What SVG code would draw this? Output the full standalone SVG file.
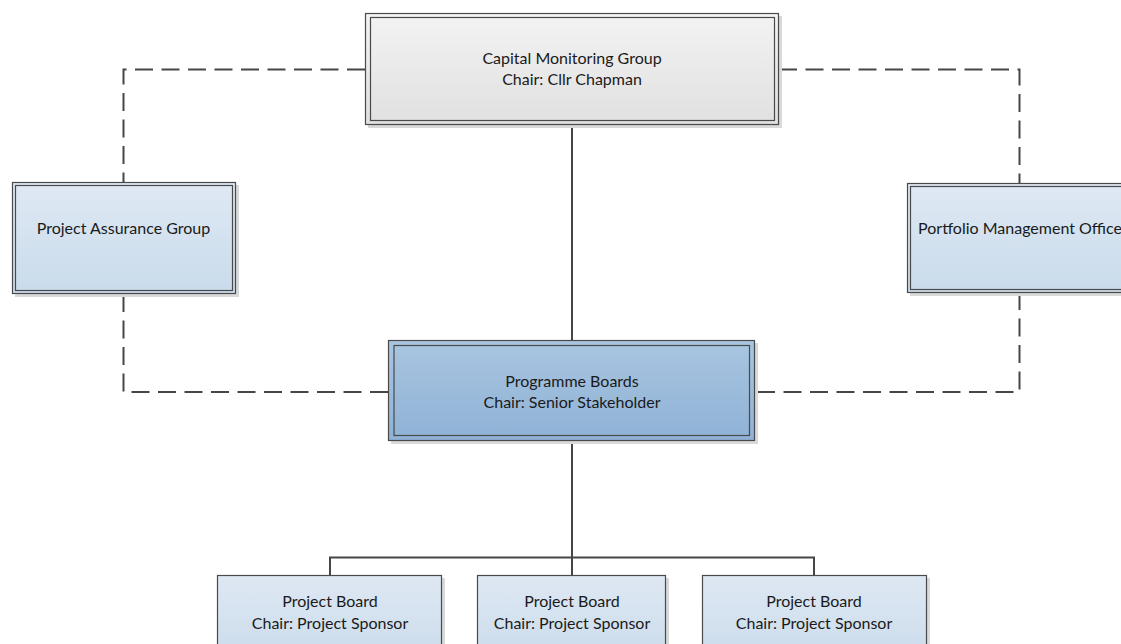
<svg xmlns="http://www.w3.org/2000/svg" width="1121" height="644" viewBox="0 0 1121 644">
  <defs>
    <linearGradient id="gGrey" x1="0" y1="0" x2="0" y2="1">
      <stop offset="0" stop-color="#f3f3f3"/>
      <stop offset="1" stop-color="#e0e0e0"/>
    </linearGradient>
    <linearGradient id="gLight" x1="0" y1="0" x2="0" y2="1">
      <stop offset="0" stop-color="#dfe9f4"/>
      <stop offset="1" stop-color="#c9dbeb"/>
    </linearGradient>
    <linearGradient id="gMid" x1="0" y1="0" x2="0" y2="1">
      <stop offset="0" stop-color="#a9c5e0"/>
      <stop offset="1" stop-color="#8fb2d6"/>
    </linearGradient>
    <linearGradient id="gBoard" x1="0" y1="0" x2="0" y2="1">
      <stop offset="0" stop-color="#dee8f3"/>
      <stop offset="1" stop-color="#ccdcec"/>
    </linearGradient>
  </defs>
  <style>
    .line { fill: none; stroke: #464646; stroke-width: 2; }
    .dash { stroke-dasharray: 18 8.5; }
    .shadow { fill: #d9d9d9; }
    .outer { stroke: #4a4a4a; stroke-width: 1.2; }
    .inner { fill: none; stroke: #4a4a4a; stroke-width: 1.2; }
    .label { font-family: Lato, "Liberation Sans", sans-serif; font-size: 16px; fill: #1a1a1a; text-anchor: middle; }
  </style>

  <rect width="1121" height="644" fill="#ffffff"/>

  <!-- connectors -->
  <g id="connectors">
    <path class="line dash" d="M365,69.5 H123.5 V182"/>
    <path class="line dash" d="M123.5,294 V392 H388"/>
    <path class="line dash" d="M779,69.5 H1019.5 V183"/>
    <path class="line dash" d="M1019.5,292 V392 H755"/>
    <path class="line" d="M572,125 V340"/>
    <path class="line" d="M572,441 V575"/>
    <path class="line" d="M330,575 V557.5 H814 V575"/>
  </g>

  <!-- Capital Monitoring Group -->
  <g id="capital-monitoring-group">
    <rect class="shadow" x="368" y="16" width="414" height="112"/>
    <rect class="outer" x="365.5" y="13.5" width="413" height="111" fill="url(#gGrey)"/>
    <rect class="inner" x="370.5" y="17.5" width="404" height="103"/>
    <text class="label" x="572" y="64">Capital Monitoring Group</text>
    <text class="label" x="572" y="85">Chair: Cllr Chapman</text>
  </g>

  <!-- Project Assurance Group -->
  <g id="project-assurance-group">
    <rect class="shadow" x="15" y="185" width="224" height="112"/>
    <rect class="outer" x="12.5" y="182.5" width="223" height="111" fill="url(#gLight)"/>
    <rect class="inner" x="15.5" y="185.5" width="217" height="105"/>
    <text class="label" x="123.5" y="234">Project Assurance Group</text>
  </g>

  <!-- Portfolio Management Office -->
  <g id="portfolio-management-office">
    <rect class="shadow" x="910" y="186" width="224" height="110"/>
    <rect class="outer" x="907.5" y="183.5" width="223" height="109" fill="url(#gLight)"/>
    <rect class="inner" x="910.5" y="186.5" width="217" height="103"/>
    <text class="label" x="1020" y="234">Portfolio Management Office</text>
  </g>

  <!-- Programme Boards -->
  <g id="programme-boards">
    <rect class="shadow" x="391" y="343" width="367" height="101"/>
    <rect class="outer" x="388.5" y="340.5" width="366" height="100" fill="url(#gMid)"/>
    <rect class="inner" x="394" y="345.5" width="355.5" height="90"/>
    <text class="label" x="572" y="387">Programme Boards</text>
    <text class="label" x="572" y="408">Chair: Senior Stakeholder</text>
  </g>

  <!-- Project Boards -->
  <g id="project-board-1">
    <rect class="shadow" x="220" y="578" width="225" height="70"/>
    <rect class="outer" x="217.5" y="575.5" width="224" height="80" fill="url(#gBoard)"/>
    <text class="label" x="330" y="607">Project Board</text>
    <text class="label" x="330" y="629">Chair: Project Sponsor</text>
  </g>
  <g id="project-board-2">
    <rect class="shadow" x="480" y="578" width="189" height="70"/>
    <rect class="outer" x="477.5" y="575.5" width="188" height="80" fill="url(#gBoard)"/>
    <text class="label" x="572" y="607">Project Board</text>
    <text class="label" x="572" y="629">Chair: Project Sponsor</text>
  </g>
  <g id="project-board-3">
    <rect class="shadow" x="705" y="578" width="225" height="70"/>
    <rect class="outer" x="702.5" y="575.5" width="224" height="80" fill="url(#gBoard)"/>
    <text class="label" x="814" y="607">Project Board</text>
    <text class="label" x="814" y="629">Chair: Project Sponsor</text>
  </g>
</svg>
